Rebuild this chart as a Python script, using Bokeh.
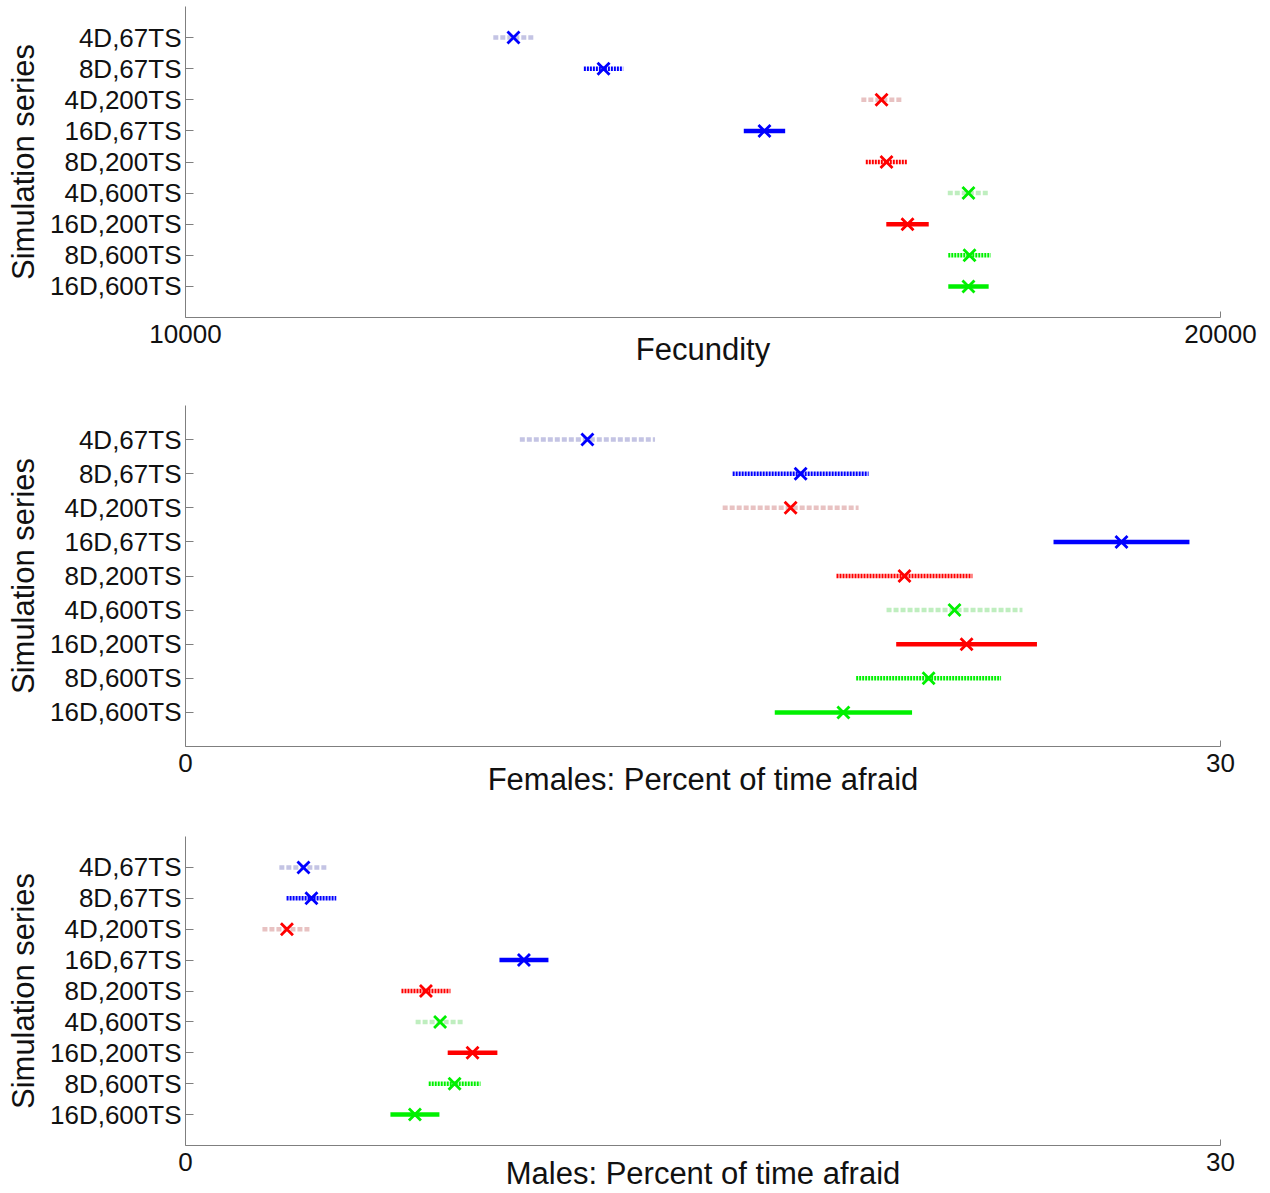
from bokeh.plotting import figure
from bokeh.layouts import column
from bokeh.models import Range1d, FixedTicker, ColumnDataSource
from bokeh.embed import file_html
from bokeh.resources import INLINE

# Simulation series, top to bottom
series = ["4D,67TS", "8D,67TS", "4D,200TS", "16D,67TS", "8D,200TS",
          "4D,600TS", "16D,200TS", "8D,600TS", "16D,600TS"]

# Fecundity: mean and half-width of the interval
fecundity_mean = [13169, 14039, 16725, 15594, 16773, 17565, 16976, 17575, 17565]
fecundity_err = [195, 190, 195, 200, 200, 200, 205, 205, 195]

# Females: percent of time afraid
female_mean = [11.65, 17.83, 17.54, 27.13, 20.84, 22.29, 22.64, 21.54, 19.07]
female_err = [1.96, 1.97, 1.97, 1.97, 1.97, 1.97, 2.04, 2.10, 1.99]

# Males: percent of time afraid
male_mean = [3.42, 3.65, 2.94, 9.81, 6.97, 7.38, 8.32, 7.80, 6.65]
male_err = [0.70, 0.72, 0.71, 0.71, 0.71, 0.71, 0.72, 0.75, 0.71]

# Colour by time steps, line style by density
strong = {"67TS": "#0000ff", "200TS": "#ff0000", "600TS": "#00f000"}
faint = {"67TS": "#c4c4e4", "200TS": "#e8c2c2", "600TS": "#bfeebf"}
dash = {"4D": "5 2", "8D": "2 1", "16D": "solid"}

FONT = "Liberation Sans"
rows = list(range(1, len(series) + 1))


def panel(mean, err, xlo, xhi, xlabel, height, top, frame_h, left, label_standoff):
    p = figure(width=1270, height=height, output_backend="svg", toolbar_location=None,
               x_range=Range1d(xlo, xhi), y_range=Range1d(10, 0),
               min_border_top=top, min_border_bottom=height - top - frame_h,
               min_border_left=left, min_border_right=50)
    p.outline_line_color = None
    p.xgrid.visible = False
    p.ygrid.visible = False
    p.background_fill_color = "white"
    p.border_fill_color = "white"

    for dens in ["4D", "8D", "16D"]:
        idx = [i for i, s in enumerate(series) if s.split(",")[0] == dens]
        src = ColumnDataSource(dict(
            x0=[mean[i] - err[i] for i in idx],
            x1=[mean[i] + err[i] for i in idx],
            y=[rows[i] for i in idx],
            c=[(faint if dens == "4D" else strong)[series[i].split(",")[1]] for i in idx],
        ))
        p.segment(x0="x0", x1="x1", y0="y", y1="y", source=src, line_color="c",
                  line_width=4.5, line_dash=dash[dens], line_cap="butt")

    msrc = ColumnDataSource(dict(
        x=mean, y=rows, c=[strong[s.split(",")[1]] for s in series]))
    p.scatter(x="x", y="y", source=msrc, marker="x", size=17,
              line_color="c", line_width=2.8)

    for ax in (p.xaxis[0], p.yaxis[0]):
        ax.axis_line_color = "#7f7f7f"
        ax.major_tick_line_color = "#7f7f7f"
        ax.minor_tick_line_color = None
        ax.major_tick_out = 0
        ax.major_label_text_font = FONT
        ax.major_label_text_font_size = "26px"
        ax.major_label_text_color = "#111111"
        ax.axis_label_text_font = FONT
        ax.axis_label_text_font_size = "31px"
        ax.axis_label_text_font_style = "normal"
        ax.axis_label_text_color = "#111111"

    p.xaxis.ticker = FixedTicker(ticks=[xlo, xhi])
    p.xaxis.major_tick_in = 6
    p.xaxis.major_label_standoff = 7
    p.xaxis.axis_label = xlabel
    p.xaxis.axis_label_standoff = label_standoff

    p.yaxis.ticker = FixedTicker(ticks=rows)
    p.yaxis.major_label_overrides = {r: s for r, s in zip(rows, series)}
    p.yaxis.major_tick_in = 8
    p.yaxis.major_label_standoff = 4
    p.yaxis.axis_label = "Simulation series"
    p.yaxis.axis_label_standoff = 6
    return p


p1 = panel(fecundity_mean, fecundity_err, 10000, 20000, "Fecundity", 395, 6, 311, 185, -14)
p2 = panel(female_mean, female_err, 0, 30, "Females: Percent of time afraid", 420, 10, 341, 185, -13)
p3 = panel(male_mean, male_err, 0, 30, "Males: Percent of time afraid", 378, 21, 310, 183, -18)

layout = column(p1, p2, p3, spacing=0)
open("out.html", "w").write(file_html(layout, INLINE))
